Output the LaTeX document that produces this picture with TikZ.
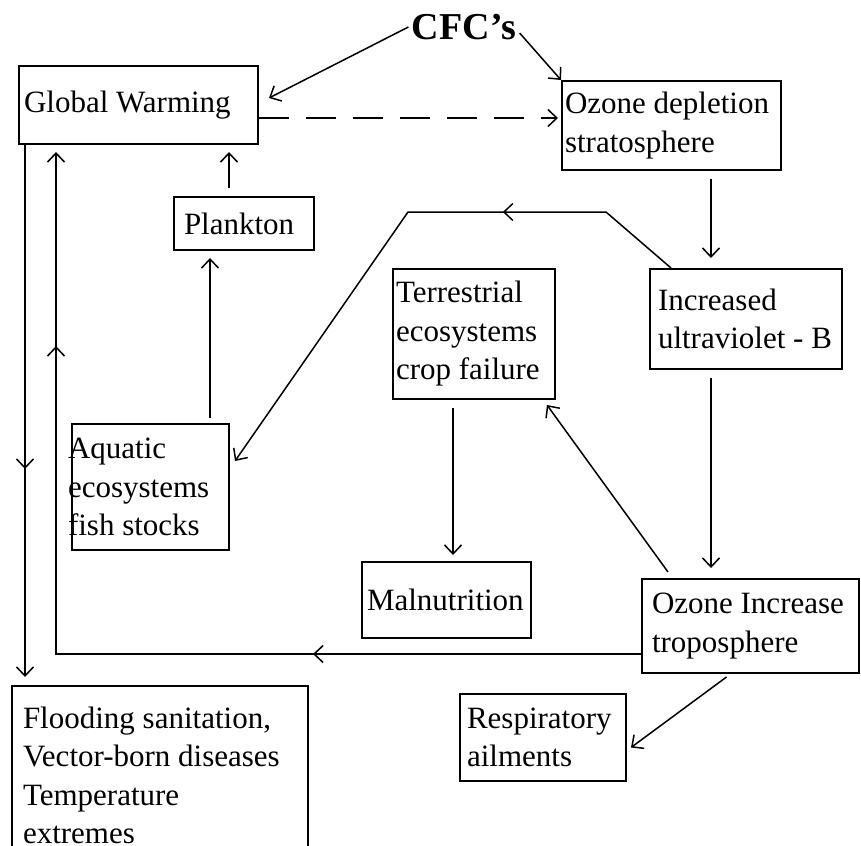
\documentclass[tikz,border=0pt]{standalone}
\usepackage{fontspec}
\setmainfont{Liberation Serif}
\usetikzlibrary{arrows.meta,decorations.markings}
\newcommand{\boxfont}{\fontsize{31}{38.5}\selectfont}

\begin{document}
\begin{tikzpicture}[x=1pt,y=-1pt,font=\boxfont,
    effect/.style={draw,line width=2pt,anchor=north west,align=flush left,inner ysep=0pt},
    ar/.style={-{Straight Barb[length=9pt,width=17pt]},line width=1.5pt},
    midar/.style={postaction={decorate,decoration={markings,
        mark=at position #1 with {\arrow{Straight Barb[length=9pt,width=17pt]}}}}}]

    \useasboundingbox (0,0) rectangle (861,845);
    \clip (0,0) rectangle (861,845);

    \node[font=\bfseries\fontsize{38}{42}\selectfont] (cfc) at (464,27) {CFC's};
    \node[effect,minimum width=239pt,minimum height=78pt,inner xsep=5pt,text width=229pt]
      (gw) at (18,65) {Global Warming};
    \node[effect,minimum width=219pt,minimum height=89pt,inner xsep=3pt,text width=213pt]
      (ozd) at (561,80) {Ozone depletion\\stratosphere};
    \node[effect,minimum width=140pt,minimum height=53pt,inner xsep=10pt,text width=120pt]
      (pl) at (173,196) {Plankton};
    \node[effect,minimum width=157pt,minimum height=126pt,inner xsep=-4pt,text width=165pt]
      (aq) at (71,423) {Aquatic\\ecosystems\\fish stocks};
    \node[effect,minimum width=162pt,minimum height=130pt,inner xsep=3pt,text width=156pt]
      (terr) at (392,268) {Terrestrial\\ecosystems\\crop failure};
    \node[effect,minimum width=192pt,minimum height=100pt,inner xsep=8pt,text width=176pt]
      (uv) at (649,268) {Increased\\ultraviolet - B};
    \node[effect,minimum width=169pt,minimum height=76pt,inner xsep=5pt,text width=159pt]
      (maln) at (361,561) {Malnutrition};
    \node[effect,minimum width=217pt,minimum height=94pt,inner xsep=10pt,text width=197pt]
      (ozinc) at (641,578) {Ozone Increase\\troposphere};
    \node[effect,minimum width=166pt,minimum height=87pt,inner xsep=7pt,text width=152pt]
      (resp) at (459,693) {Respiratory\\ailments};
    \node[effect,minimum width=296pt,minimum height=179pt,inner xsep=11pt,text width=274pt]
      (fl) at (11,685) {Flooding sanitation,\\Vector-born diseases\\Temperature\\extremes};

    \coordinate (uvx) at ([xshift=-35pt]uv.north);
    \coordinate (gwl) at ([xshift=7pt]gw.south west);
    \coordinate (gwd) at ([yshift=-13pt]gw.east);
    \coordinate (aqx) at ([xshift=-34pt]pl.south);
    \coordinate (plx) at ([xshift=-15pt]pl.north);
    \coordinate (terrx) at ([xshift=-21pt]terr.south);

    \draw[ar] (cfc.west) -- ([xshift=10pt,yshift=7pt]gw.east);
    \draw[ar] ([yshift=-6pt]cfc.east) -- (ozd.north west);
    \draw[ar,dash pattern=on 30pt off 17pt,shorten >=3pt] (gwd) -- (gwd -| ozd.west);
    \draw[ar,shorten <=8pt] (uvx |- ozd.south) -- ([yshift=10pt]uvx);
    \draw[ar,shorten <=8pt,shorten >=10pt] (uvx |- uv.south) -- (uvx |- ozinc.north);
    \draw[ar,midar=189pt] ([xshift=22pt]uv.north west) -- ++(-65,-56) -- ++(-198,0)
      -- ([xshift=5pt,yshift=26pt]aq.east);
    \draw[ar,shorten <=5pt,shorten >=7pt] (aqx |- aq.north) -- (aqx);
    \draw[ar,shorten <=8pt,shorten >=7pt] (plx) -- (plx |- gw.south);
    \draw[ar,shorten <=8pt,shorten >=6pt] (terrx) -- (terrx |- maln.north);
    \draw[ar] ([xshift=27pt,yshift=6pt]ozinc.north west) -- ([xshift=-9pt,yshift=-5pt]terr.south east);
    \draw[ar] ([xshift=-24pt,yshift=-3pt]ozinc.south) -- ([xshift=4pt,yshift=-10pt]resp.east);
    \draw[ar,midar=328pt,midar=893pt] ([yshift=-28pt]ozinc.west) -| ([xshift=38pt,yshift=-7pt]gw.south west);
    \draw[ar,midar=324pt,shorten >=8pt] (gwl) -- (gwl |- fl.north);
\end{tikzpicture}
\end{document}
